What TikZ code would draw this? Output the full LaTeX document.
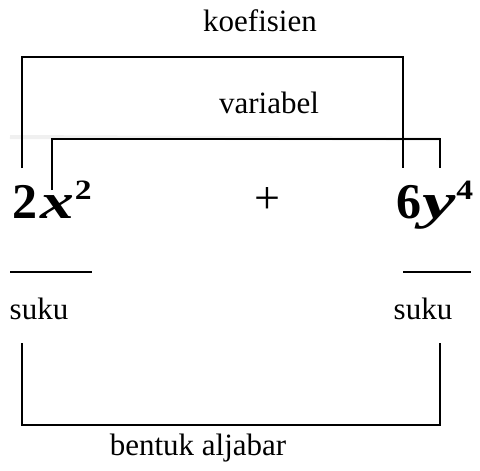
\documentclass[tikz,border=0pt]{standalone}
\usepackage{graphicx}
\usepackage{fontspec}
\setmainfont{Liberation Serif}
\usetikzlibrary{positioning, calc}
\tikzset{
  lbl/.style={font=\fontsize{31}{36}\selectfont, inner sep=0pt},
  term/.style={font=\fontsize{50}{56}\selectfont\bfseries, inner sep=0pt, anchor=base west},
  brk/.style={draw, line width=1.4pt},
}
\newcommand{\pw}[1]{\raisebox{19pt}{\scalebox{1.2}[1]{\fontsize{28}{32}\selectfont\bfseries #1}}}
\newcommand{\var}[2][1.35]{\scalebox{#1}[1]{\itshape #2}}

\begin{document}
\begin{tikzpicture}[x=1pt, y=-1pt]
    \useasboundingbox (0,0) rectangle (480,471);
    % terms
    \node[term] (t1) at (12,218) {2\kern3pt\var{x}\kern1pt\pw{2}};
    \node[term] (t2) at (396,218) {6\kern1pt\var[1.5]{y}\kern1pt\pw{4}};
    \node[lbl, font=\fontsize{46}{50}\selectfont] (plus) at (267,201) {+};
    % labels
    \node[lbl] (koef) at (260,21) {koefisien};
    \node[lbl] (var) at (269,103) {variabel};
    \node[lbl] (suku1) at (39,309) {suku};
    \node[lbl] (suku2) at (423,309) {suku};
    \node[lbl, anchor=base] (bentuk) at (198,455) {bentuk aljabar};
    % bracket ends
    \coordinate (k1) at (22,168);
    \coordinate (k2) at (403,168);
    \coordinate (kt) at (200,57);
    \coordinate (v1) at (52,190);
    \coordinate (v2) at (440,168);
    \coordinate (vt) at (200,139);
    \coordinate (b1) at (22,343);
    \coordinate (b2) at (440,343);
    \coordinate (bb) at (200,425);
    % faint shadow
    \draw[gray!12, line width=4pt] (10,137) -- (v2 |- vt);
    % brackets
    \draw[brk] (k1) |- (kt) -| (k2);
    \draw[brk] (v1) |- (vt) -| (v2);
    \draw[brk] (b1) |- (bb) -| (b2);
    % bars above suku
    \draw[line width=1.2pt] (10,272) -- (92,272);
    \draw[line width=1.2pt] (403,272) -- (471,272);
\end{tikzpicture}
\end{document}
